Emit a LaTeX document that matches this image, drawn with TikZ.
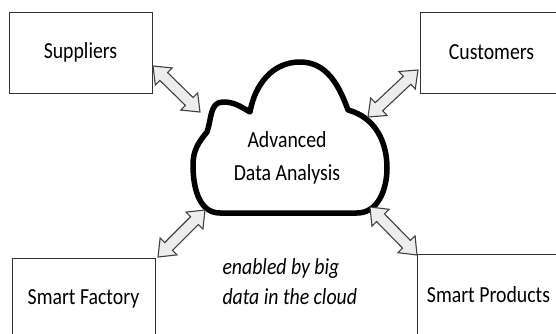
\documentclass[tikz,border=0pt]{standalone}
\usepackage{fontspec}
\setmainfont[FakeStretch=0.86]{Carlito}
\usetikzlibrary{calc}
\newcommand{\dblarrow}[2]{%
  \coordinate (#1h) at ($(#1)!15pt!(#2)$);
  \coordinate (#2h) at ($(#2)!15pt!(#1)$);
  \draw[fat arrow] (#1) -- ($(#1h)!12pt!90:(#2)$) -- ($(#1h)!5.5pt!90:(#2)$)
    -- ($(#2h)!5.5pt!-90:(#1)$) -- ($(#2h)!12pt!-90:(#1)$) -- (#2)
    -- ($(#2h)!12pt!90:(#1)$) -- ($(#2h)!5.5pt!90:(#1)$)
    -- ($(#1h)!5.5pt!-90:(#2)$) -- ($(#1h)!12pt!-90:(#2)$) -- cycle;}

\begin{document}
\begin{tikzpicture}[x=1pt,y=1pt,
	box node/.style={draw=black!80,line width=0.9pt,minimum width=143pt,
	  minimum height=81pt,inner sep=0pt,font=\fontsize{23}{28}\selectfont},
	fat arrow/.style={draw=black!75,fill=black!7,line width=1.1pt,line join=miter},
	cloud line/.style={line width=5.5pt,line join=round}]
	\clip (0,0) rectangle (556,333);
	
	\node[box node] (suppliers) at (80.5,280.5) {Suppliers};
	\node[box node] (customers) at (491.5,280.5) {Customers};
	\node[box node] (factory) at (83.5,34.5) {Smart Factory};
	\node[box node] (products) at (488.5,38.5) {Smart Products};
	
	% cloud
	\draw[cloud line] (220,120) -- (357,120) to[out=0,in=-90] (387,165)
	  to[out=90,in=-15] (348,223) to[out=110,in=0] (300,271)
	  to[out=180,in=80] (250,221) to[out=150,in=0] (223,231)
	  to[out=180,in=70] (207,201) to[out=230,in=90] (193,168)
	  to[out=-90,in=180] (220,120) -- cycle;
	\node[align=center,font=\fontsize{23}{33}\selectfont] (analysis) at (287,175)
	  {Advanced\\Data Analysis};
	\node[align=left,anchor=base west,font=\fontsize{23}{30}\selectfont\itshape]
	  (cloudnote) at (219,29) {enabled by big\\data in the cloud};
	
	\coordinate (sa) at (153,267); \coordinate (sb) at (200,221);
	\coordinate (ca) at (368,216); \coordinate (cb) at (418,263);
	\coordinate (fa) at (158,76);  \coordinate (fb) at (205,123);
	\coordinate (pa) at (370,126); \coordinate (pb) at (417,78);
	\dblarrow{sa}{sb}
	\dblarrow{ca}{cb}
	\dblarrow{fa}{fb}
	\dblarrow{pa}{pb}
\end{tikzpicture}
\end{document}
